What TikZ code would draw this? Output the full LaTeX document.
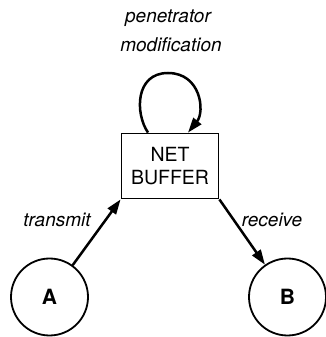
\documentclass[tikz,border=0pt]{standalone}
\usepackage{fontspec}
\setsansfont{TeX Gyre Heros}
\usetikzlibrary{arrows.meta}
\begin{document}
\begin{tikzpicture}[x=1pt,y=1pt,
  every node/.style={font=\sffamily},
  place/.style={circle,draw,line width=1.8pt,minimum size=77pt,inner sep=0pt,
    font=\sffamily\bfseries\fontsize{21}{24}\selectfont},
  buffer/.style={draw,line width=1.8pt,minimum width=97pt,minimum height=65pt,
    inner sep=0pt,align=center,font=\sffamily\fontsize{19.5}{23}\selectfont},
  lbl/.style={font=\sffamily\itshape\fontsize{19}{22}\selectfont,inner sep=0pt},
  link/.style={line width=2.5pt,-{Triangle[length=15pt,width=10pt]}}]
  \useasboundingbox (0,0) rectangle (325,337);

  % nodes
  \node[buffer] (net) at (170,171) {NET\\BUFFER};
  \node[place] (A) at (49.5,40) {A};
  \node[place] (B) at (287.5,40) {B};

  % labels
  \node[lbl] (pen) at (168,319) {penetrator};
  \node[lbl] (mod) at (171,292) {modification};
  \node[lbl] (tx) at (57,117) {transmit};
  \node[lbl] (rx) at (272,117) {receive};

  % connectors
  \draw[link] (A) -- (net.south west);
  \draw[link] (net.south east) -- (B);
  \draw[link] ([xshift=-22pt]net.north)
     .. controls +(-13,19) and +(-33,0) .. (168,264)
     .. controls +(33,0) and +(17,21) .. ([xshift=18pt]net.north);
\end{tikzpicture}
\end{document}
